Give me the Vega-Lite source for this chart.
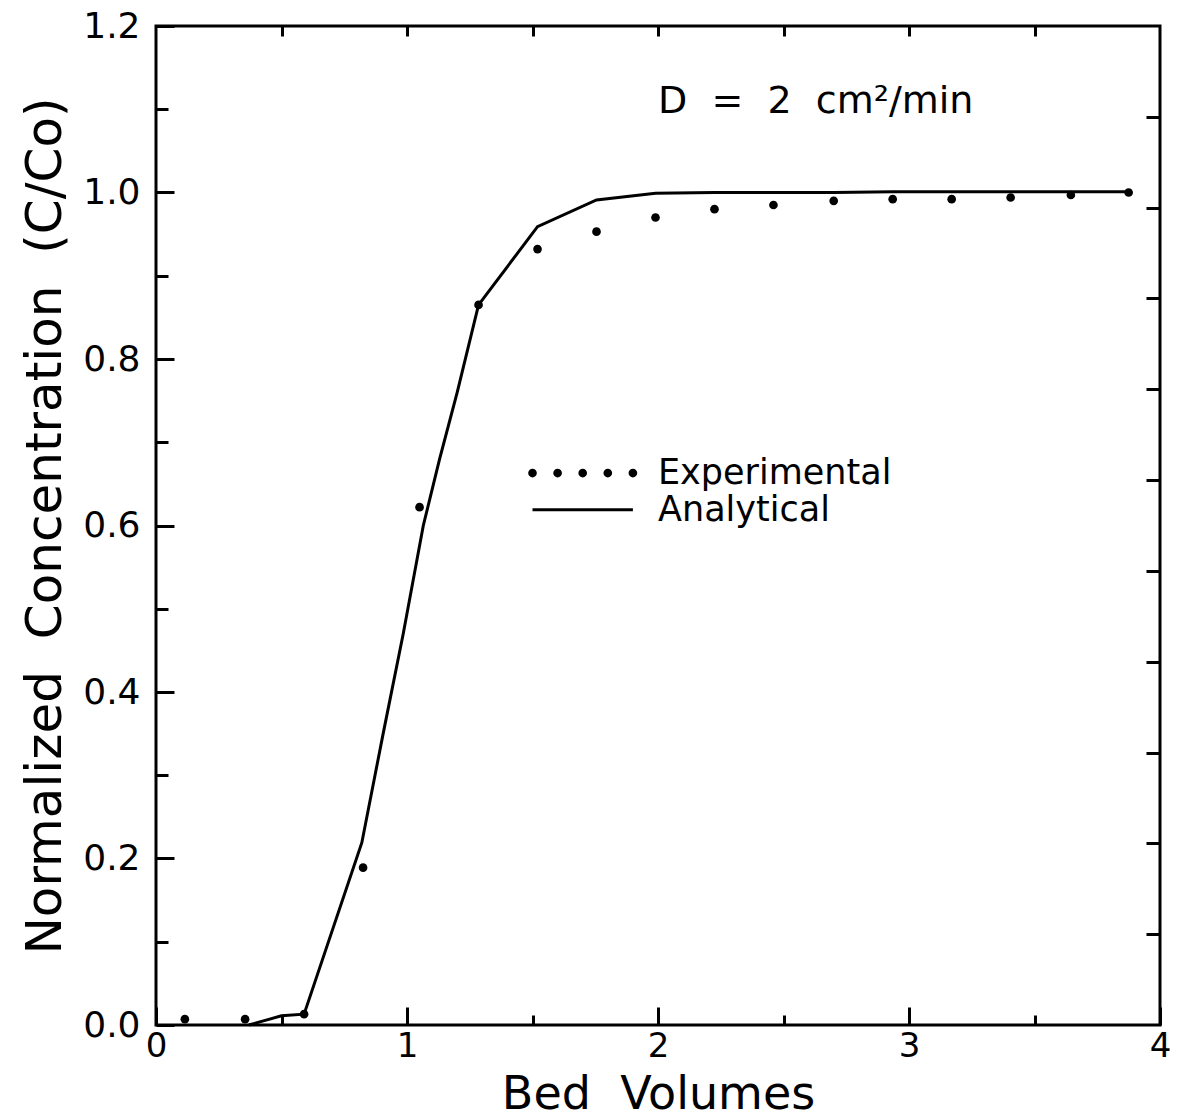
{
  "$schema": "https://vega.github.io/schema/vega-lite/v6.json",
  "width": 1004,
  "height": 999,
  "autosize": {"type": "none"},
  "padding": {"left": 156, "top": 26, "right": 18, "bottom": 95},
  "background": "white",
  "config": {
    "font": "DejaVu Sans",
    "view": {"stroke": "black", "strokeWidth": 3},
    "axis": {
      "domain": false,
      "grid": false,
      "tickColor": "black",
      "tickWidth": 3,
      "labelColor": "black",
      "titleColor": "black",
      "labelFont": "DejaVu Sans",
      "titleFont": "DejaVu Sans",
      "titleFontWeight": "normal"
    }
  },
  "datasets": {
    "exp": [
      {"bv": 0.115, "c": 0.007}, {"bv": 0.355, "c": 0.007}, {"bv": 0.59, "c": 0.013},
      {"bv": 0.825, "c": 0.189}, {"bv": 1.05, "c": 0.622}, {"bv": 1.285, "c": 0.865},
      {"bv": 1.52, "c": 0.932}, {"bv": 1.755, "c": 0.953}, {"bv": 1.99, "c": 0.970},
      {"bv": 2.225, "c": 0.980}, {"bv": 2.46, "c": 0.985}, {"bv": 2.70, "c": 0.990},
      {"bv": 2.935, "c": 0.992}, {"bv": 3.17, "c": 0.992}, {"bv": 3.405, "c": 0.994},
      {"bv": 3.645, "c": 0.997}, {"bv": 3.875, "c": 1.0}
    ],
    "ana": [
      {"bv": 0.37, "c": 0.0}, {"bv": 0.50, "c": 0.011}, {"bv": 0.59, "c": 0.013},
      {"bv": 0.82, "c": 0.219}, {"bv": 0.905, "c": 0.35}, {"bv": 0.985, "c": 0.47},
      {"bv": 1.065, "c": 0.60}, {"bv": 1.13, "c": 0.68}, {"bv": 1.20, "c": 0.76},
      {"bv": 1.285, "c": 0.865}, {"bv": 1.52, "c": 0.959}, {"bv": 1.755, "c": 0.991},
      {"bv": 1.99, "c": 0.999}, {"bv": 2.225, "c": 1.0}, {"bv": 2.46, "c": 1.0},
      {"bv": 2.70, "c": 1.0}, {"bv": 2.935, "c": 1.001}, {"bv": 3.17, "c": 1.001},
      {"bv": 3.405, "c": 1.001}, {"bv": 3.645, "c": 1.001}, {"bv": 3.875, "c": 1.001}
    ],
    "legdots": [
      {"bv": 1.50, "c": 0.663}, {"bv": 1.60, "c": 0.663}, {"bv": 1.70, "c": 0.663},
      {"bv": 1.80, "c": 0.663}, {"bv": 1.90, "c": 0.663}
    ],
    "legline": [
      {"bv": 1.50, "c": 0.619}, {"bv": 1.90, "c": 0.619}
    ],
    "legtext": [
      {"bv": 2.0, "c": 0.663, "label": "Experimental"},
      {"bv": 2.0, "c": 0.619, "label": "Analytical"}
    ],
    "note": [
      {"bv": 2.0, "c": 1.109, "label": "D\u00a0 =\u00a0 2\u00a0 cm²/min"}
    ]
  },
  "resolve": {"axis": {"x": "independent", "y": "independent"}},
  "layer": [
    {
      "data": {"name": "exp"},
      "mark": {"type": "circle", "size": 75, "color": "black", "opacity": 1},
      "encoding": {
        "x": {
          "field": "bv", "type": "quantitative",
          "scale": {"domain": [0, 4], "nice": false, "zero": false},
          "axis": {
            "orient": "bottom", "values": [0, 1, 2, 3, 4], "format": "d",
            "tickSize": -18, "labelPadding": 22, "labelFontSize": 34,
            "labelFlush": false,
            "title": "Bed\u00a0 Volumes", "titleFontSize": 46, "titlePadding": 9
          }
        },
        "y": {
          "field": "c", "type": "quantitative",
          "scale": {"domain": [0, 1.2], "nice": false, "zero": false},
          "axis": {
            "orient": "left", "values": [0, 0.2, 0.4, 0.6, 0.8, 1.0, 1.2], "format": ".1f",
            "tickSize": -18, "labelPadding": 34, "labelFontSize": 36,
            "labelFlush": false,
            "title": "Normalized\u00a0 Concentration\u00a0 (C/Co)", "titleFontSize": 50, "titlePadding": 12
          }
        }
      }
    },
    {
      "data": {"name": "ana"},
      "mark": {"type": "line", "color": "black", "strokeWidth": 3},
      "encoding": {
        "x": {
          "field": "bv", "type": "quantitative",
          "axis": {"orient": "bottom", "values": [0.5, 1.5, 2.5, 3.5], "tickSize": -10, "labels": false, "title": null}
        },
        "y": {
          "field": "c", "type": "quantitative",
          "axis": {"orient": "left", "values": [0.1, 0.3, 0.5, 0.7, 0.9, 1.1], "tickSize": -12, "labels": false, "title": null}
        }
      }
    },
    {
      "data": {"name": "legdots"},
      "mark": {"type": "circle", "size": 75, "color": "black", "opacity": 1},
      "encoding": {
        "x": {
          "field": "bv", "type": "quantitative",
          "axis": {"orient": "top", "values": [0.5, 1, 1.5, 2, 2.5, 3, 3.5], "tickSize": -10, "labels": false, "title": null}
        },
        "y": {
          "field": "c", "type": "quantitative",
          "axis": {"orient": "right", "values": [0.1091, 0.2182, 0.3273, 0.4364, 0.5455, 0.6545, 0.7636, 0.8727, 0.9818, 1.0909], "tickSize": -14, "labels": false, "title": null}
        }
      }
    },
    {
      "data": {"name": "legline"},
      "mark": {"type": "line", "color": "black", "strokeWidth": 3},
      "encoding": {
        "x": {"field": "bv", "type": "quantitative", "axis": null},
        "y": {"field": "c", "type": "quantitative", "axis": null}
      }
    },
    {
      "data": {"name": "legtext"},
      "mark": {"type": "text", "align": "left", "baseline": "middle", "fontSize": 35, "font": "DejaVu Sans", "color": "black"},
      "encoding": {
        "x": {"field": "bv", "type": "quantitative", "axis": null},
        "y": {"field": "c", "type": "quantitative", "axis": null},
        "text": {"field": "label"}
      }
    },
    {
      "data": {"name": "note"},
      "mark": {"type": "text", "align": "left", "baseline": "middle", "fontSize": 38, "font": "DejaVu Sans", "color": "black"},
      "encoding": {
        "x": {"field": "bv", "type": "quantitative", "axis": null},
        "y": {"field": "c", "type": "quantitative", "axis": null},
        "text": {"field": "label"}
      }
    }
  ]
}
